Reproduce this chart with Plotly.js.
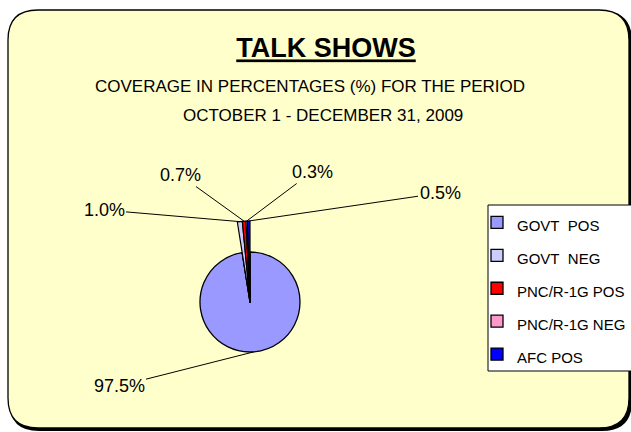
<!DOCTYPE html>
<html>
<head>
<meta charset="utf-8">
<script src="https://cdn.plot.ly/plotly-3.0.1.min.js"></script>
<style>
  html, body { margin: 0; padding: 0; background: #fff; }
  #plot { width: 631px; height: 432px; }
</style>
</head>
<body>
<div id="plot"></div>
<script>
// slices (percent)
var labels = ["GOVT  POS", "GOVT  NEG", "PNC/R-1G POS", "PNC/R-1G NEG", "AFC POS"];
var values = [97.5, 1.0, 0.7, 0.3, 0.5];
var colors = ["#9999FF", "#CCCCFF", "#FF0000", "#FF99CC", "#0000FF"];

var W = 631, H = 432;
var FONT = '"Liberation Sans", Arial, sans-serif';

// margins are zero, so paper units map straight to pixels
function px(x) { return x / W; }
function py(y) { return 1 - y / H; }

// pie centre and radii (px); the small slices stick out as a long sliver
var cx = 250, cy = 302, r1 = 50, r2 = 81;
// where the percentage texts sit (px)
var labelPos = [[119, 386], [104, 210], [180, 175], [312, 172], [440, 193]];

// legend text: keep the double space, smaller text than the row height
var legendText = labels.map(function(l) {
  return '<span style="font-size:15px">' + l.replace(/  /g, '\u00a0 ') + '</span>';
});

var main = {
  type: "pie",
  labels: legendText,
  values: values,
  sort: false,
  direction: "clockwise",
  rotation: 0,
  textinfo: "none",
  hoverinfo: "none",
  marker: { colors: colors, line: { color: "#000", width: 1.3 } },
  domain: { x: [px(cx - r1), px(cx + r1)], y: [py(cy + r1), py(cy - r1)] }
};

// same slices on a bigger radius, big slice hidden: the exploded sliver
var sliver = {
  type: "pie",
  labels: legendText,
  values: values,
  sort: false,
  direction: "clockwise",
  rotation: 0,
  textinfo: "none",
  hoverinfo: "none",
  showlegend: false,
  marker: {
    colors: colors.map(function(c, i) { return i === 0 ? "rgba(0,0,0,0)" : c; }),
    line: { color: "#000", width: values.map(function(v, i) { return i === 0 ? 0 : 1.2; }) }
  },
  domain: { x: [px(cx - r2), px(cx + r2)], y: [py(cy + r2), py(cy - r2)] }
};

// leader lines from each text to its slice
var total = values.reduce(function(a, b) { return a + b; }, 0);
var cum = 0;
var annotations = values.map(function(v, i) {
  var mid = (cum + v / 2) / total * 2 * Math.PI;
  cum += v;
  var r = i === 0 ? r1 : r2;
  var hx = cx + r * Math.sin(mid), hy = cy - r * Math.cos(mid);
  return {
    x: px(hx), y: py(hy), xref: "paper", yref: "paper",
    ax: labelPos[i][0] - hx, ay: labelPos[i][1] - hy,
    text: v.toFixed(1) + "%",
    showarrow: true, arrowhead: 0, arrowwidth: 1, arrowcolor: "#000", standoff: 0,
    font: { family: FONT, size: 18, color: "#000" }
  };
});

// subtitle lines
annotations.push({
  x: px(310), y: py(87), xref: "paper", yref: "paper",
  xanchor: "center", yanchor: "middle", showarrow: false,
  text: "COVERAGE IN PERCENTAGES (%) FOR THE PERIOD",
  font: { family: FONT, size: 17, color: "#000" }
});
annotations.push({
  x: px(323), y: py(115), xref: "paper", yref: "paper",
  xanchor: "center", yanchor: "middle", showarrow: false,
  text: "OCTOBER 1 - DECEMBER 31, 2009",
  font: { family: FONT, size: 17, color: "#000" }
});

// rounded frame
function roundRect(x0, y0, x1, y1, r) {
  return "M" + px(x0 + r) + "," + py(y0) +
    " L" + px(x1 - r) + "," + py(y0) +
    " Q" + px(x1) + "," + py(y0) + " " + px(x1) + "," + py(y0 + r) +
    " L" + px(x1) + "," + py(y1 - r) +
    " Q" + px(x1) + "," + py(y1) + " " + px(x1 - r) + "," + py(y1) +
    " L" + px(x0 + r) + "," + py(y1) +
    " Q" + px(x0) + "," + py(y1) + " " + px(x0) + "," + py(y1 - r) +
    " L" + px(x0) + "," + py(y0 + r) +
    " Q" + px(x0) + "," + py(y0) + " " + px(x0 + r) + "," + py(y0) + " Z";
}

var shapes = [
  { type: "path", xref: "paper", yref: "paper", layer: "below",
    path: roundRect(9, 11, 632, 431, 30), fillcolor: "#000", line: { width: 0 } },
  { type: "path", xref: "paper", yref: "paper", layer: "below",
    path: roundRect(8, 10, 629, 428, 30), fillcolor: "#FFFFCC", line: { color: "#000", width: 1.3 } },
  // legend box
  { type: "rect", xref: "paper", yref: "paper", layer: "below",
    x0: px(488), x1: px(640), y0: py(371), y1: py(205),
    fillcolor: "#fff", line: { color: "#000", width: 1 } }
];

var layout = {
  width: W, height: H,
  margin: { l: 0, r: 0, t: 0, b: 0, autoexpand: false },
  paper_bgcolor: "#fff",
  title: {
    text: "<b><u>TALK SHOWS</u></b>",
    font: { family: FONT, size: 27, color: "#000" },
    x: px(326), xanchor: "center", xref: "paper",
    y: py(48), yanchor: "middle", yref: "paper"
  },
  legend: {
    x: px(477), y: py(201), xanchor: "left", yanchor: "top",
    bgcolor: "rgba(0,0,0,0)", borderwidth: 0,
    font: { family: FONT, size: 23, color: "#000" },
    itemwidth: 30
  },
  annotations: annotations,
  shapes: shapes
};

Plotly.newPlot("plot", [main, sliver], layout, { staticPlot: true });
</script>
</body>
</html>
